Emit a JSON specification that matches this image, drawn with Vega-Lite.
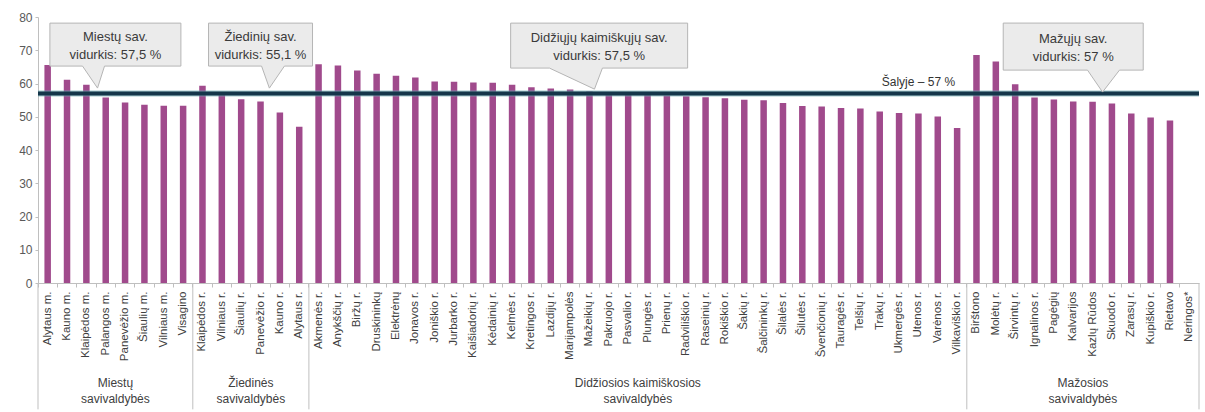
{
  "$schema": "https://vega.github.io/schema/vega-lite/v6.json",
  "width": 1161,
  "height": 266,
  "autosize": {"type": "none"},
  "padding": {"left": 38, "top": 17, "right": 6, "bottom": 129},
  "background": "white",
  "config": {
    "view": {"stroke": null},
    "font": "Liberation Sans Narrow, Arial Narrow, Liberation Sans, sans-serif",
    "axisY": {"tickCount": 8, "labelOverlap": false}
  },
  "data": {
    "values": [
      {"name": "Alytaus m.", "group": "Miestų", "value": 65.6},
      {"name": "Kauno m.", "group": "Miestų", "value": 61.1},
      {"name": "Klaipėdos m.", "group": "Miestų", "value": 59.6},
      {"name": "Palangos m.", "group": "Miestų", "value": 55.8},
      {"name": "Panevėžio m.", "group": "Miestų", "value": 54.3},
      {"name": "Šiaulių m.", "group": "Miestų", "value": 53.6},
      {"name": "Vilniaus m.", "group": "Miestų", "value": 53.3},
      {"name": "Visagino", "group": "Miestų", "value": 53.3},
      {"name": "Klaipėdos r.", "group": "Žiedinės", "value": 59.3},
      {"name": "Vilniaus r.", "group": "Žiedinės", "value": 57.2},
      {"name": "Šiaulių r.", "group": "Žiedinės", "value": 55.3},
      {"name": "Panevėžio r.", "group": "Žiedinės", "value": 54.6},
      {"name": "Kauno r.", "group": "Žiedinės", "value": 51.3},
      {"name": "Alytaus r.", "group": "Žiedinės", "value": 47.0},
      {"name": "Akmenės r.", "group": "Didžiosios", "value": 65.8},
      {"name": "Anykščių r.", "group": "Didžiosios", "value": 65.4},
      {"name": "Biržų r.", "group": "Didžiosios", "value": 63.9},
      {"name": "Druskininkų", "group": "Didžiosios", "value": 62.9},
      {"name": "Elektrėnų", "group": "Didžiosios", "value": 62.3},
      {"name": "Jonavos r.", "group": "Didžiosios", "value": 61.8},
      {"name": "Joniškio r.", "group": "Didžiosios", "value": 60.6},
      {"name": "Jurbarko r.", "group": "Didžiosios", "value": 60.5},
      {"name": "Kaišiadorių r.", "group": "Didžiosios", "value": 60.3},
      {"name": "Kėdainių r.", "group": "Didžiosios", "value": 60.2},
      {"name": "Kelmės r.", "group": "Didžiosios", "value": 59.6},
      {"name": "Kretingos r.", "group": "Didžiosios", "value": 58.9},
      {"name": "Lazdijų r.", "group": "Didžiosios", "value": 58.5},
      {"name": "Marijampolės", "group": "Didžiosios", "value": 58.2},
      {"name": "Mažeikių r.", "group": "Didžiosios", "value": 57.6},
      {"name": "Pakruojo r.", "group": "Didžiosios", "value": 56.9},
      {"name": "Pasvalio r.", "group": "Didžiosios", "value": 56.8},
      {"name": "Plungės r.", "group": "Didžiosios", "value": 56.6},
      {"name": "Prienų r.", "group": "Didžiosios", "value": 56.4},
      {"name": "Radviliškio r.", "group": "Didžiosios", "value": 56.2},
      {"name": "Raseinių r.", "group": "Didžiosios", "value": 55.9},
      {"name": "Rokiškio r.", "group": "Didžiosios", "value": 55.6},
      {"name": "Šakių r.", "group": "Didžiosios", "value": 55.1},
      {"name": "Šalčininkų r.", "group": "Didžiosios", "value": 55.0},
      {"name": "Šilalės r.", "group": "Didžiosios", "value": 54.1},
      {"name": "Šilutės r.", "group": "Didžiosios", "value": 53.2},
      {"name": "Švenčionių r.", "group": "Didžiosios", "value": 53.1},
      {"name": "Tauragės r.", "group": "Didžiosios", "value": 52.6},
      {"name": "Telšių r.", "group": "Didžiosios", "value": 52.5},
      {"name": "Trakų r.", "group": "Didžiosios", "value": 51.6},
      {"name": "Ukmergės r.", "group": "Didžiosios", "value": 51.1},
      {"name": "Utenos r.", "group": "Didžiosios", "value": 51.0},
      {"name": "Varėnos r.", "group": "Didžiosios", "value": 50.1},
      {"name": "Vilkaviškio r.", "group": "Didžiosios", "value": 46.6},
      {"name": "Birštono", "group": "Mažosios", "value": 68.6},
      {"name": "Molėtų r.", "group": "Mažosios", "value": 66.6},
      {"name": "Širvintų r.", "group": "Mažosios", "value": 59.8},
      {"name": "Ignalinos r.", "group": "Mažosios", "value": 55.8},
      {"name": "Pagėgių", "group": "Mažosios", "value": 55.2},
      {"name": "Kalvarijos", "group": "Mažosios", "value": 54.6},
      {"name": "Kazlų Rūdos", "group": "Mažosios", "value": 54.5},
      {"name": "Skuodo r.", "group": "Mažosios", "value": 54.0},
      {"name": "Zarasų r.", "group": "Mažosios", "value": 51.0},
      {"name": "Kupiškio r.", "group": "Mažosios", "value": 49.8},
      {"name": "Rietavo", "group": "Mažosios", "value": 48.9},
      {"name": "Neringos*", "group": "Mažosios", "value": null}
    ]
  },
  "layer": [
    {
      "mark": {"type": "bar", "width": 6.5, "color": "#a04a8c", "invalid": "show"},
      "encoding": {
        "x": {
          "field": "name", "type": "nominal", "sort": null,
          "scale": {"paddingInner": 0, "paddingOuter": 0},
          "axis": {
            "title": null, "labelAngle": 270, "labelFontSize": 11.5, "labelColor": "#404040",
            "labelPadding": 4, "bandPosition": 0, "tickSize": 4, "tickColor": "#bfbfbf",
            "domainColor": "#bfbfbf", "labelOverlap": false, "labelLimit": 0
          }
        },
        "y": {
          "field": "value", "type": "quantitative",
          "scale": {"domain": [0, 80], "nice": false},
          "axis": {
            "title": null, "tickCount": 8, "labelFontSize": 12,
            "labelColor": "#595959", "tickSize": 3, "tickColor": "#bfbfbf", "domainColor": "#bfbfbf",
            "grid": false, "labelPadding": 3, "labelOverlap": false
          }
        }
      }
    },
    {
      "transform": [
        {"window": [{"op": "row_number", "as": "rn"}], "groupby": ["group"]},
        {"filter": "datum.rn == 1"}
      ],
      "mark": {"type": "rule", "color": "#bfbfbf", "strokeWidth": 1},
      "encoding": {
        "x": {"field": "name", "type": "nominal", "sort": null, "bandPosition": 0},
        "y": {"datum": 0},
        "y2": {"datum": -38}
      }
    },
    {
      "transform": [{"filter": "datum.name == 'Neringos*'"}],
      "mark": {"type": "rule", "color": "#bfbfbf", "strokeWidth": 1},
      "encoding": {
        "x": {"field": "name", "type": "nominal", "sort": null, "bandPosition": 1},
        "y": {"datum": 0},
        "y2": {"datum": -38}
      }
    },
    {
      "data": {"values": [
        {"name": "Panevėžio m.", "label": "Miestų\nsavivaldybės"},
        {"name": "Panevėžio r.", "label": "Žiedinės\nsavivaldybės"},
        {"name": "Plungės r.", "label": "Didžiosios kaimiškosios\nsavivaldybės"},
        {"name": "Kazlų Rūdos", "label": "Mažosios\nsavivaldybės"}
      ]},
      "mark": {"type": "text", "lineBreak": "\n", "fontSize": 12, "lineHeight": 16, "color": "#404040", "baseline": "middle", "dy": -8},
      "encoding": {
        "x": {"field": "name", "type": "nominal", "sort": null, "bandPosition": 0},
        "y": {"datum": -32.5},
        "text": {"field": "label"}
      }
    },
    {
      "data": {"values": [{"country": 57}]},
      "mark": {"type": "rule", "color": "#6aaab3", "strokeWidth": 6, "opacity": 0.6},
      "encoding": {"y": {"field": "country", "type": "quantitative"}}
    },
    {
      "data": {"values": [{"country": 57}]},
      "mark": {"type": "rule", "color": "#15364a", "strokeWidth": 4},
      "encoding": {"y": {"field": "country", "type": "quantitative"}}
    },
    {
      "data": {"values": [{"name": "Utenos r.", "label": "Šalyje – 57 %"}]},
      "mark": {"type": "text", "fontSize": 12, "color": "#333333", "baseline": "middle"},
      "encoding": {
        "x": {"field": "name", "type": "nominal", "sort": null, "bandPosition": 0.5},
        "y": {"datum": 60.45},
        "text": {"field": "label"}
      }
    },
    {
      "data": {"values": [{"name": "Panevėžio m.", "label": "Miestų sav.\nvidurkis: 57,5 %"}]},
      "encoding": {
        "x": {"field": "name", "type": "nominal", "sort": null, "bandPosition": 0},
        "y": {"datum": 71.7}
      },
      "layer": [
        {"mark": {"type": "point", "shape": "M-1,-0.328H1V0.328H-0.166L-0.273,0.664L-0.502,0.328H-1Z", "size": 17161, "filled": true, "fill": "#ebebeb", "stroke": "#b5b5b5", "strokeWidth": 1, "opacity": 1, "fillOpacity": 1}},
        {"mark": {"type": "text", "lineBreak": "\n", "fontSize": 13, "lineHeight": 18, "color": "#3a3a3a", "baseline": "middle", "dy": -8}, "encoding": {"text": {"field": "label"}}}
      ]
    },
    {
      "data": {"values": [{"name": "Panevėžio r.", "label": "Žiedinių sav.\nvidurkis: 55,1 %"}]},
      "encoding": {
        "x": {"field": "name", "type": "nominal", "sort": null, "bandPosition": 0.5},
        "y": {"datum": 71.7}
      },
      "layer": [
        {"mark": {"type": "point", "shape": "M-1,-0.413H1V0.413H0.46L0.17,0.837L0.02,0.413H-1Z", "size": 10816, "filled": true, "fill": "#ebebeb", "stroke": "#b5b5b5", "strokeWidth": 1, "opacity": 1, "fillOpacity": 1}},
        {"mark": {"type": "text", "lineBreak": "\n", "fontSize": 13, "lineHeight": 18, "color": "#3a3a3a", "baseline": "middle", "dy": -8}, "encoding": {"text": {"field": "label"}}}
      ]
    },
    {
      "data": {"values": [{"name": "Pakruojo r.", "label": "Didžiųjų kaimiškųjų sav.\nvidurkis: 57,5 %"}]},
      "encoding": {
        "x": {"field": "name", "type": "nominal", "sort": null, "bandPosition": 0},
        "y": {"datum": 71.4}
      },
      "layer": [
        {"mark": {"type": "point", "shape": "M-1,-0.254H1V0.254H0.037L-0.053,0.492L-0.562,0.254H-1Z", "size": 31329, "filled": true, "fill": "#ebebeb", "stroke": "#b5b5b5", "strokeWidth": 1, "opacity": 1, "fillOpacity": 1}},
        {"mark": {"type": "text", "lineBreak": "\n", "fontSize": 13, "lineHeight": 18, "color": "#3a3a3a", "baseline": "middle", "dy": -8}, "encoding": {"text": {"field": "label"}}}
      ]
    },
    {
      "data": {"values": [{"name": "Kalvarijos", "label": "Mažųjų sav.\nvidurkis: 57 %"}]},
      "encoding": {
        "x": {"field": "name", "type": "nominal", "sort": null, "bandPosition": 0.5},
        "y": {"datum": 71.1}
      },
      "layer": [
        {"mark": {"type": "point", "shape": "M-1,-0.336H1V0.336H0.661L0.419,0.65L0.204,0.336H-1Z", "size": 19600, "filled": true, "fill": "#ebebeb", "stroke": "#b5b5b5", "strokeWidth": 1, "opacity": 1, "fillOpacity": 1}},
        {"mark": {"type": "text", "lineBreak": "\n", "fontSize": 13, "lineHeight": 18, "color": "#3a3a3a", "baseline": "middle", "dy": -8}, "encoding": {"text": {"field": "label"}}}
      ]
    }
  ]
}
